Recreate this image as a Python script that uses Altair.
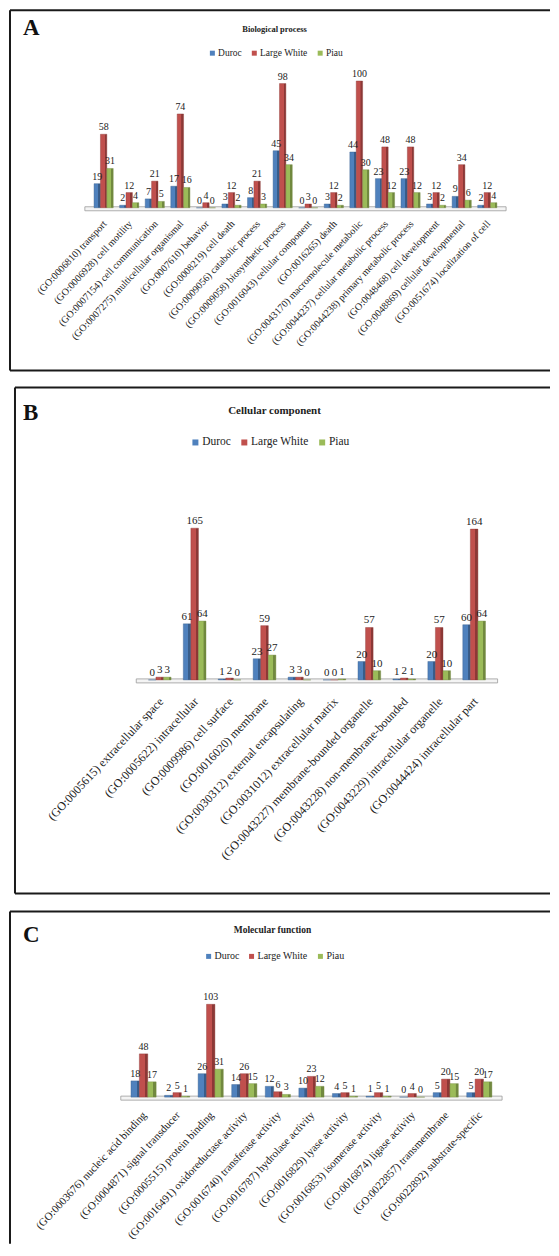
import altair as alt
import pandas as pd

series = ["Duroc", "Large White", "Piau"]
colors = ["#4F81BD", "#C0504D", "#9BBB59"]
sides = ["#385D8A", "#8C3836", "#71893F"]

bp_terms = [
    "(GO:0006810) transport", "(GO:0006928) cell motility", "(GO:0007154) cell communication",
    "(GO:0007275) multicellular organismal", "(GO:0007610) behavior", "(GO:0008219) cell death",
    "(GO:0009056) catabolic process", "(GO:0009058) biosynthetic process",
    "(GO:0016043) cellular component", "(GO:0016265) death", "(GO:0043170) macromolecule metabolic",
    "(GO:0044237) cellular metabolic process", "(GO:0044238) primary metabolic process",
    "(GO:0048468) cell development", "(GO:0048869) cellular developmental",
    "(GO:0051674) localization of cell",
]
bp_duroc = [19, 2, 7, 17, 0, 3, 8, 45, 0, 3, 44, 23, 23, 3, 9, 2]
bp_lw = [58, 12, 21, 74, 4, 12, 21, 98, 3, 12, 100, 48, 48, 12, 34, 12]
bp_piau = [31, 4, 5, 16, 0, 2, 3, 34, 0, 2, 30, 12, 12, 2, 6, 4]

cc_terms = [
    "(GO:0005615) extracellular space", "(GO:0005622) intracellular", "(GO:0009986) cell surface",
    "(GO:0016020) membrane", "(GO:0030312) external encapsulating", "(GO:0031012) extracellular matrix",
    "(GO:0043227) membrane-bounded organelle", "(GO:0043228) non-membrane-bounded",
    "(GO:0043229) intracellular organelle", "(GO:0044424) intracellular part",
]
cc_duroc = [0, 61, 1, 23, 3, 0, 20, 1, 20, 60]
cc_lw = [3, 165, 2, 59, 3, 0, 57, 2, 57, 164]
cc_piau = [3, 64, 0, 27, 0, 1, 10, 1, 10, 64]

mf_terms = [
    "(GO:0003676) nucleic acid binding", "(GO:0004871) signal transducer", "(GO:0005515) protein binding",
    "(GO:0016491) oxidoreductase activity", "(GO:0016740) transferase activity",
    "(GO:0016787) hydrolase activity", "(GO:0016829) lyase activity", "(GO:0016853) isomerase activity",
    "(GO:0016874) ligase activity", "(GO:0022857) transmembrane", "(GO:0022892) substrate-specific",
]
mf_duroc = [18, 2, 26, 14, 12, 10, 4, 1, 0, 5, 5]
mf_lw = [48, 5, 103, 26, 6, 23, 5, 5, 4, 20, 20]
mf_piau = [17, 1, 31, 15, 3, 12, 1, 1, 0, 15, 17]

SERIF = "Liberation Serif"
W = 543


def long_df(terms, d, lw, p):
    rows = []
    for i, t in enumerate(terms):
        for s, vals in zip(series, [d, lw, p]):
            rows.append({"term": t, "series": s, "value": vals[i]})
    return pd.DataFrame(rows)


def panel(letter, title, terms, d, lw, p, c):
    df = long_df(terms, d, lw, p)
    one = pd.DataFrame({"k": [0]})
    tdf = pd.DataFrame({"term": terms})

    xsc = alt.Scale(domain=terms, range=c["xr"], paddingInner=c["pi"], paddingOuter=c["pi"] / 2)
    ysc = alt.Scale(domain=[0, c["ymax"]], range=[c["base"], c["top"]], nice=False, zero=True)
    X = alt.X("term:N", scale=xsc, axis=None)
    XO = alt.XOffset("series:N", scale=alt.Scale(domain=series))
    Y = alt.Y("value:Q", scale=ysc, axis=None)

    layers = []
    # frame
    bx = c["box"]
    layers.append(alt.Chart(one).mark_rule(color="#1a1a1a", strokeWidth=2).encode(
        x=alt.value(bx[0]), x2=alt.value(W), y=alt.value(bx[1])))
    layers.append(alt.Chart(one).mark_rule(color="#1a1a1a", strokeWidth=2).encode(
        x=alt.value(bx[0]), y=alt.value(bx[1]), y2=alt.value(bx[2])))
    if c.get("bottom", True):
        layers.append(alt.Chart(one).mark_rule(color="#1a1a1a", strokeWidth=2).encode(
            x=alt.value(bx[0]), x2=alt.value(W), y=alt.value(bx[2])))
    # letter and title
    layers.append(alt.Chart(one).mark_text(font=SERIF, fontSize=23, fontWeight="bold", align="left",
                                           baseline="alphabetic", color="#111").encode(
        x=alt.value(c["letter"][0]), y=alt.value(c["letter"][1]), text=alt.value(letter)))
    layers.append(alt.Chart(one).mark_text(font=SERIF, fontSize=c["tsize"], fontWeight="bold",
                                           align="center", baseline="middle", color="#222").encode(
        x=alt.value(c["title"][0]), y=alt.value(c["title"][1]), text=alt.value(title)))
    # floor
    x0, x1 = c["xr"]
    layers.append(alt.Chart(one).mark_rect(fill="#f4f4f4", stroke="#9a9a9a", strokeWidth=0.8).encode(
        x=alt.value(x0 - 6), x2=alt.value(x1 + 6), y=alt.value(c["base"] - 1), y2=alt.value(c["base"] + 3)))
    # bars
    for s, col, sd in zip(series, colors, sides):
        grad = {"gradient": "linear", "x1": 0, "x2": 1, "y1": 0, "y2": 0,
                "stops": [{"offset": 0, "color": col}, {"offset": 0.66, "color": col},
                          {"offset": 0.68, "color": sd}, {"offset": 1, "color": sd}]}
        layers.append(alt.Chart(df).transform_filter(alt.datum.series == s).mark_bar(
            fill=grad, stroke=sd, strokeWidth=0.4).encode(x=X, xOffset=XO, y=Y))
    # value labels
    layers.append(alt.Chart(df).mark_text(font=SERIF, fontSize=c["vsize"], dy=-7, color="#222").encode(
        x=X, xOffset=XO, y=Y, text="value:Q"))
    # category labels
    layers.append(alt.Chart(tdf).mark_text(font=SERIF, fontSize=c["lsize"], angle=313, align="right",
                                           baseline="middle", color="#222", dx=2).encode(
        x=X, y=alt.value(c["ly"]), text="term:N"))
    # legend
    layers.append(alt.Chart(df).mark_square(opacity=0).encode(
        x=X, y=Y,
        color=alt.Color("series:N", scale=alt.Scale(domain=series, range=colors),
                        legend=alt.Legend(orient="none", legendX=c["leg"][0], legendY=c["leg"][1],
                                          direction="horizontal", title=None, symbolType="square",
                                          symbolSize=c["lsym"], symbolOpacity=1, symbolStrokeWidth=0,
                                          labelFont=SERIF, labelFontSize=c["legsize"], labelColor="#222",
                                          labelOffset=1, columnPadding=7, padding=0))))
    return alt.layer(*layers).properties(width=W, height=c["h"])


cA = dict(h=370, box=(2, 0, 361), letter=(15, 25), title=(267, 19), tsize=8.5, leg=(200, 38),
          legsize=9.5, lsym=25, base=198, top=71, ymax=100, xr=[83, 493], pi=0.25, ly=214,
          lsize=10, vsize=10)
cB = dict(h=524, box=(7, 8, 515), letter=(15, 41), title=(267, 32), tsize=11, leg=(182, 57),
          legsize=11.5, lsym=36, base=301, top=149, ymax=165, xr=[134.5, 484.5], pi=0.35, ly=322,
          lsize=12, vsize=11)
cC = dict(h=342, box=(2, 9, 342), bottom=False, letter=(15, 40), title=(265, 28), tsize=9.5,
          leg=(196, 49), legsize=10, lsym=25, base=195, top=102, ymax=103, xr=[119, 489], pi=0.25,
          ly=213, lsize=11, vsize=10)

chart = alt.vconcat(
    panel("A", "Biological process", bp_terms, bp_duroc, bp_lw, bp_piau, cA),
    panel("B", "Cellular component", cc_terms, cc_duroc, cc_lw, cc_piau, cB),
    panel("C", "Molecular function", mf_terms, mf_duroc, mf_lw, mf_piau, cC),
    spacing=0,
).resolve_scale(
    x="independent", y="independent", xOffset="independent", color="independent"
).resolve_legend(color="independent").properties(padding=0).configure_view(stroke=None)

chart.save("out.html", embed_options={"renderer": "svg", "actions": False})
